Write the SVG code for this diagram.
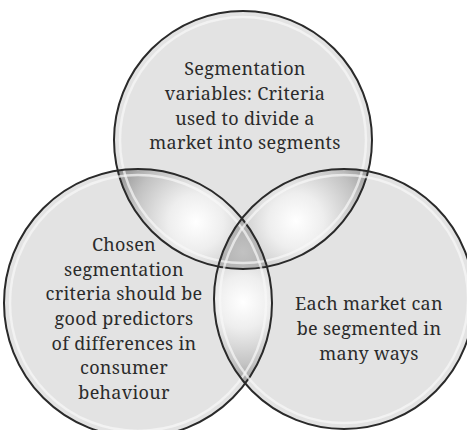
<svg xmlns="http://www.w3.org/2000/svg" width="467" height="430" viewBox="0 0 467 430">
<style>
.base{fill:#e3e3e3;stroke:none}
.edge{fill:none;stroke:#2a2a2a;stroke-width:2}
.shine{fill:none;stroke:#f8f8f8;stroke-width:2.5;opacity:0.7}
.lbl{font-family:'Noto Serif','DejaVu Serif',serif;font-size:18px;letter-spacing:0.3px;fill:#2b2b2b;text-anchor:middle}
</style>
<defs>
<clipPath id="cTop"><circle cx="243" cy="140" r="129"/></clipPath>
<clipPath id="cLeft"><circle cx="138" cy="303" r="134"/></clipPath>
<clipPath id="cRight"><circle cx="344" cy="299" r="130"/></clipPath>
<radialGradient id="gTL" gradientUnits="userSpaceOnUse" cx="196" cy="222" r="92">
<stop offset="0" stop-color="#ffffff"/><stop offset="0.3" stop-color="#eeeeee"/><stop offset="0.7" stop-color="#c2c2c2"/><stop offset="1" stop-color="#939393"/>
</radialGradient>
<radialGradient id="gTR" gradientUnits="userSpaceOnUse" cx="296" cy="221" r="92">
<stop offset="0" stop-color="#ffffff"/><stop offset="0.3" stop-color="#eeeeee"/><stop offset="0.7" stop-color="#c2c2c2"/><stop offset="1" stop-color="#939393"/>
</radialGradient>
<radialGradient id="gLR" gradientUnits="userSpaceOnUse" cx="243" cy="302" r="88">
<stop offset="0" stop-color="#ffffff"/><stop offset="0.3" stop-color="#eeeeee"/><stop offset="0.7" stop-color="#c4c4c4"/><stop offset="1" stop-color="#959595"/>
</radialGradient>
<radialGradient id="gMid" gradientUnits="userSpaceOnUse" cx="243" cy="252" r="40">
<stop offset="0" stop-color="#c2c2c2"/><stop offset="1" stop-color="#a6a6a6"/>
</radialGradient>
</defs>
<rect width="467" height="430" fill="#ffffff"/>
<g id="fills">
<circle class="base" cx="243" cy="140" r="129"/>
<circle class="base" cx="138" cy="303" r="134"/>
<circle class="base" cx="344" cy="299" r="130"/>
</g>
<g id="overlaps">
<circle cx="243" cy="140" r="129" fill="url(#gTL)" clip-path="url(#cLeft)"/>
<circle cx="243" cy="140" r="129" fill="url(#gTR)" clip-path="url(#cRight)"/>
<circle cx="138" cy="303" r="134" fill="url(#gLR)" clip-path="url(#cRight)"/>
<g clip-path="url(#cLeft)"><circle cx="243" cy="140" r="129" fill="url(#gMid)" clip-path="url(#cRight)"/></g>
</g>
<g id="node-top">
<circle class="shine" cx="243" cy="140" r="123"/>
<circle class="edge" cx="243" cy="140" r="129"/>
<text class="lbl" x="245" y="75.4">Segmentation</text>
<text class="lbl" x="245" y="100">variables: Criteria</text>
<text class="lbl" x="245" y="124.6">used to divide a</text>
<text class="lbl" x="245" y="149.2">market into segments</text>
</g>
<g id="node-left">
<circle class="shine" cx="138" cy="303" r="128"/>
<circle class="edge" cx="138" cy="303" r="134"/>
<text class="lbl" x="124" y="251.2">Chosen</text>
<text class="lbl" x="124" y="275.8">segmentation</text>
<text class="lbl" x="124" y="300.4">criteria should be</text>
<text class="lbl" x="124" y="325">good predictors</text>
<text class="lbl" x="124" y="349.6">of differences in</text>
<text class="lbl" x="124" y="374.2">consumer</text>
<text class="lbl" x="124" y="398.8">behaviour</text>
</g>
<g id="node-right">
<circle class="shine" cx="344" cy="299" r="124"/>
<circle class="edge" cx="344" cy="299" r="130"/>
<text class="lbl" x="369" y="310.4">Each market can</text>
<text class="lbl" x="369" y="335">be segmented in</text>
<text class="lbl" x="369" y="359.6">many ways</text>
</g>
</svg>
